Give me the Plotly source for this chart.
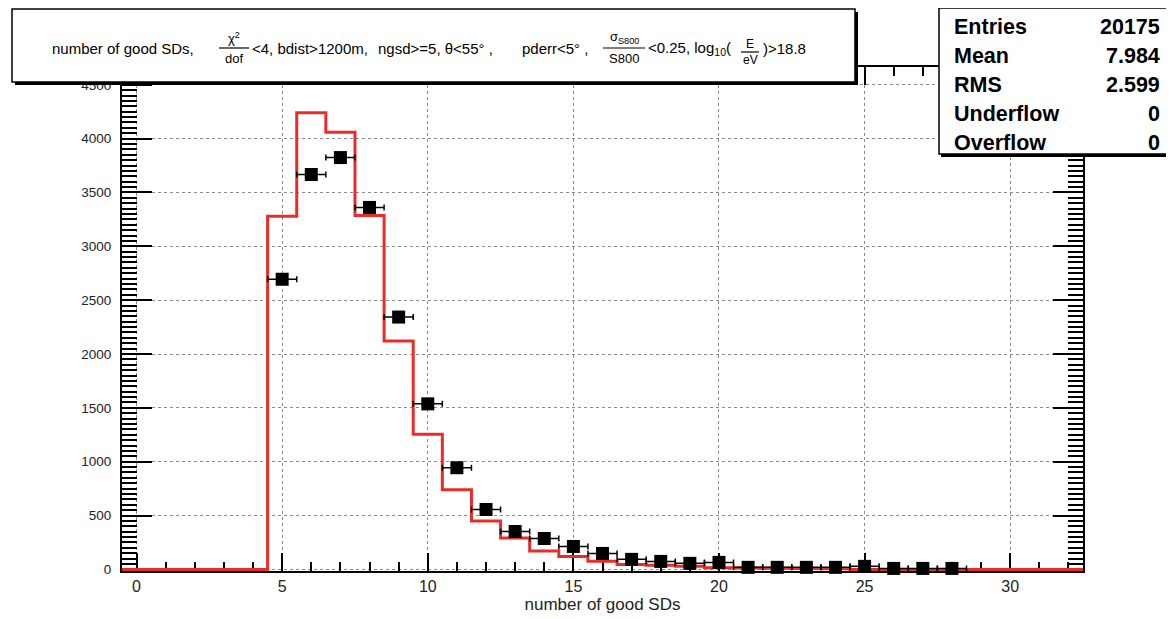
import plotly.graph_objects as go

# ---------------- data ----------------
bin_edges = [i - 0.5 for i in range(0, 34)]  # -0.5 .. 32.5
mc_counts = [0, 0, 0, 0, 0, 3280, 4240, 4060, 3285, 2120, 1255, 740, 450, 292, 170,
             120, 75, 45, 38, 30, 15, 12, 10, 8, 6, 0, 0, 0, 0, 0, 0, 0, 0]
data_x = [5, 6, 7, 8, 9, 10, 11, 12, 13, 14, 15, 16, 17, 18, 19, 20,
          21, 22, 23, 24, 25, 26, 27, 28]
data_y = [2694, 3667, 3824, 3361, 2343, 1537, 944, 556, 352, 287, 213, 148, 93, 74, 56, 65,
          19, 19, 19, 19, 28, 9, 9, 9]
data_xerr = [0.5] * len(data_x)

stat_labels = ["Entries", "Mean", "RMS", "Underflow", "Overflow"]
stat_values = ["20175", "7.984", "2.599", "0", "0"]

x_ticks = [0, 5, 10, 15, 20, 25, 30]
y_ticks = [0, 500, 1000, 1500, 2000, 2500, 3000, 3500, 4000, 4500]

# ---------------- layout helpers ----------------
OFF = 8  # page body margin
W, H = 1174 - OFF, 619 - OFF
L, R, T, B = 122 - OFF, 91, 67 - OFF, 48
PW, PH = W - L - R, H - T - B
FONT = "Liberation Sans, Arial, Helvetica, sans-serif"


def px(xp):
    return (xp - OFF - L) / PW


def py(yp):
    return (H - B - (yp - OFF)) / PH


fig = go.Figure()

# step histogram (red)
fig.add_trace(go.Scatter(
    x=bin_edges, y=mc_counts + [mc_counts[-1]],
    mode="lines", line=dict(shape="hv", color="rgb(232,45,40)", width=3),
    showlegend=False, hoverinfo="skip"))

# data points (black squares with horizontal error bars)
fig.add_trace(go.Scatter(
    x=data_x, y=data_y, mode="markers",
    marker=dict(symbol="square", size=13, color="black"),
    error_x=dict(type="data", array=data_xerr, color="black", thickness=1.5, width=3),
    cliponaxis=False, showlegend=False))

shapes = []
annotations = []

# ---- title box ----
shapes.append(dict(type="rect", xref="paper", yref="paper", layer="above",
                   x0=px(15), x1=px(858), y0=py(85), y1=py(12),
                   fillcolor="black", line=dict(width=0)))
shapes.append(dict(type="rect", xref="paper", yref="paper", layer="above",
                   x0=px(12), x1=px(855), y0=py(82), y1=py(9),
                   fillcolor="white", line=dict(color="black", width=1.5)))

tfs = 15


def txt(s, xpix, ypix, anchor="left", size=tfs):
    annotations.append(dict(text=s, x=px(xpix), y=py(ypix), xref="paper", yref="paper",
                            xanchor=anchor, yanchor="middle", showarrow=False,
                            font=dict(family=FONT, size=size, color="black")))


def frac(num, den, xc, half_w, ybar, size=13, dy=10):
    txt(num, xc, ybar - dy, anchor="center", size=size)
    txt(den, xc, ybar + dy, anchor="center", size=size)
    shapes.append(dict(type="line", xref="paper", yref="paper", layer="above",
                       x0=px(xc - half_w), x1=px(xc + half_w), y0=py(ybar), y1=py(ybar),
                       line=dict(color="black", width=1.2)))


ty = 49
txt("number of good SDs,", 50, ty)
frac("χ<sup>2</sup>", "dof", 234, 15, 48)
txt("<4, bdist>1200m,", 250, ty)
txt("ngsd>=5, θ<55° ,", 376, ty)
txt("pderr<5° ,", 520, ty)
frac("σ<sub>S800</sub>", "S800", 624, 21, 48)
txt("<0.25, log<sub>10</sub>(", 646, ty)
frac("E", "eV", 750, 9, 52, size=12, dy=8)
txt(")>18.8", 761, ty)

# ---- stats box ----
shapes.append(dict(type="rect", xref="paper", yref="paper", layer="above",
                   x0=px(941), x1=px(1180), y0=py(157), y1=py(10),
                   fillcolor="black", line=dict(width=0)))
shapes.append(dict(type="rect", xref="paper", yref="paper", layer="above",
                   x0=px(939), x1=px(1178), y0=py(154), y1=py(8),
                   fillcolor="white", line=dict(color="black", width=1.5)))
row_y = [27, 56, 85, 114, 143]
for lab, val, yy in zip(stat_labels, stat_values, row_y):
    annotations.append(dict(text="<b>%s</b>" % lab, x=px(952), y=py(yy), xref="paper", yref="paper",
                            xanchor="left", yanchor="middle", showarrow=False,
                            font=dict(family=FONT, size=21.5, color="black")))
    annotations.append(dict(text="<b>%s</b>" % val, x=px(1162), y=py(yy), xref="paper", yref="paper",
                            xanchor="right", yanchor="middle", showarrow=False,
                            font=dict(family=FONT, size=21.5, color="black")))

fig.update_layout(
    width=W, height=H,
    margin=dict(l=L, r=R, t=T, b=B, pad=0, autoexpand=False),
    paper_bgcolor="white", plot_bgcolor="white",
    shapes=shapes, annotations=annotations,
    showlegend=False,
    xaxis=dict(
        range=[-0.5, 32.5], tickvals=x_ticks, ticktext=[str(v) for v in x_ticks],
        ticks="inside", ticklen=18, tickwidth=2, tickcolor="black",
        minor=dict(dtick=1, ticks="inside", ticklen=9, tickwidth=2, tickcolor="black", showgrid=False),
        showline=True, linecolor="black", linewidth=2, mirror="ticks",
        showgrid=True, gridcolor="#8a8a8a", griddash="dot", gridwidth=1,
        zeroline=False, tickfont=dict(family=FONT, size=16, color="#222"),
        layer="below traces", automargin=False,
        title=dict(text="number of good SDs", font=dict(family=FONT, size=17, color="#222"), standoff=3),
    ),
    yaxis=dict(
        range=[-15, 4665], tickvals=y_ticks, ticktext=[str(v) for v in y_ticks],
        ticks="inside", ticklen=30, tickwidth=2, tickcolor="black",
        minor=dict(dtick=50, ticks="inside", ticklen=15, tickwidth=2, tickcolor="black", showgrid=False),
        showline=True, linecolor="black", linewidth=2, mirror="ticks",
        showgrid=True, gridcolor="#8a8a8a", griddash="dot", gridwidth=1,
        zeroline=False, tickfont=dict(family=FONT, size=13.5, color="#222"),
        ticklabelstandoff=6, layer="below traces", automargin=False,
    ),
)

fig.write_html("out.html")
